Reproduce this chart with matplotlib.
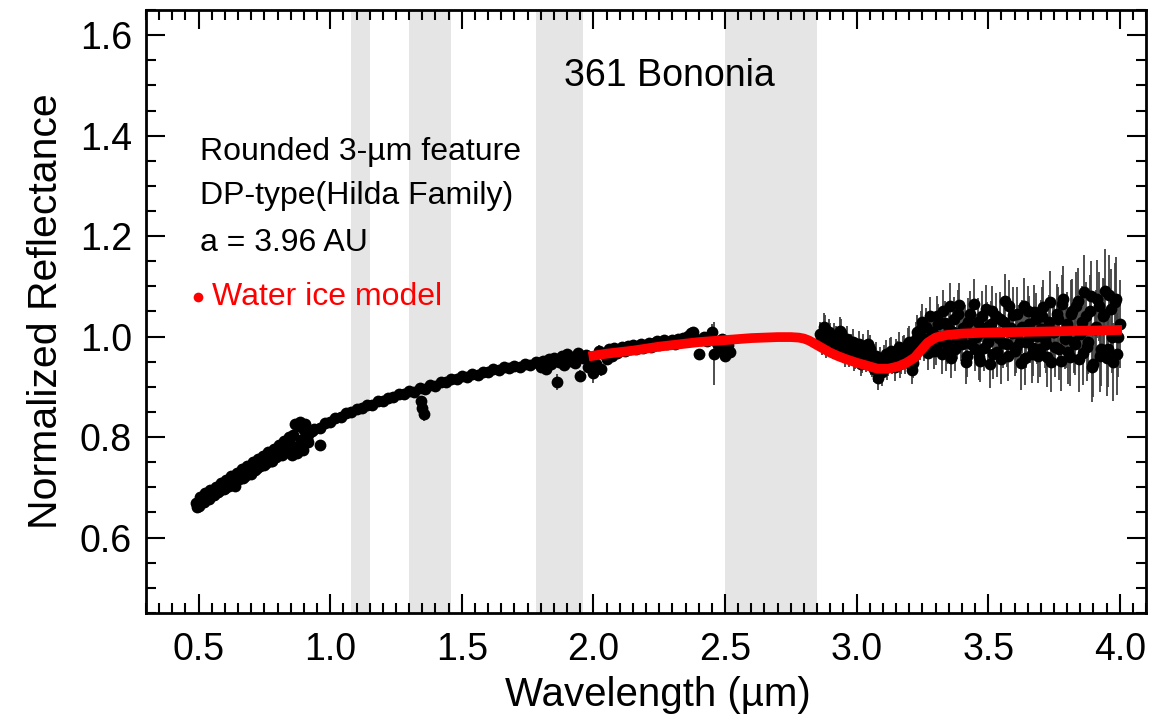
import numpy as np
import matplotlib
matplotlib.use("Agg")
import matplotlib.pyplot as plt
from matplotlib.ticker import MultipleLocator

plt.rcParams['font.family'] = ['Liberation Sans', 'DejaVu Sans']

# telluric bands masked out (um)
bands = [(1.08, 1.15), (1.30, 1.46), (1.78, 1.96), (2.50, 2.85)]

# visible spectrum
wl_vis = [0.49, 0.50, 0.51, 0.52, 0.53, 0.54, 0.55, 0.56, 0.57, 0.58, 0.59, 0.60,
          0.61, 0.62, 0.63, 0.64, 0.65, 0.66, 0.67, 0.68, 0.69, 0.70, 0.71, 0.72,
          0.73, 0.74, 0.75, 0.76, 0.77, 0.78, 0.79, 0.80, 0.81, 0.82, 0.83, 0.84,
          0.845, 0.85, 0.855, 0.86, 0.865, 0.87, 0.875, 0.88, 0.885, 0.89, 0.895,
          0.90, 0.905, 0.91, 0.915, 0.92, 0.93]
refl_vis = [0.668, 0.663, 0.676, 0.671, 0.680, 0.676, 0.687, 0.684, 0.690, 0.695, 0.700, 0.698,
            0.708, 0.706, 0.712, 0.702, 0.718, 0.724, 0.719, 0.730, 0.733, 0.727, 0.742, 0.739,
            0.746, 0.752, 0.744, 0.757, 0.762, 0.752, 0.770, 0.766, 0.777, 0.780, 0.772, 0.790,
            0.800, 0.784, 0.765, 0.805, 0.825, 0.778, 0.768, 0.822, 0.830, 0.795, 0.775,
            0.815, 0.826, 0.798, 0.790, 0.808, 0.812]
wl_vis2 = [0.495, 0.505, 0.515, 0.525, 0.535, 0.545, 0.555, 0.565, 0.575, 0.585, 0.595, 0.605,
           0.615, 0.625, 0.635, 0.645, 0.655, 0.665, 0.675, 0.685, 0.695, 0.705, 0.715, 0.725,
           0.735, 0.745, 0.755, 0.765, 0.775, 0.785, 0.795, 0.805, 0.815, 0.825, 0.835]
refl_vis2 = [0.660, 0.680, 0.670, 0.688, 0.678, 0.694, 0.684, 0.700, 0.690, 0.708, 0.696, 0.714,
             0.703, 0.722, 0.710, 0.728, 0.716, 0.736, 0.722, 0.742, 0.728, 0.750, 0.734, 0.756,
             0.742, 0.762, 0.748, 0.770, 0.753, 0.776, 0.760, 0.784, 0.765, 0.792, 0.770]

# near-infrared
wl_nir = [0.94, 0.96, 0.98, 1.00, 1.02, 1.04, 1.06, 1.08, 1.10, 1.12, 1.14, 1.16,
          1.18, 1.20, 1.22, 1.24, 1.26, 1.28, 1.30, 1.32, 1.34, 1.345, 1.35, 1.355,
          1.36, 1.38, 1.40, 1.42, 1.44, 1.46, 1.48, 1.50, 1.52, 1.54, 1.56, 1.58,
          1.60, 1.62, 1.64, 1.66, 1.68, 1.70, 1.72, 1.74, 1.76, 1.78,
          1.79, 1.80, 1.81, 1.82, 1.83, 1.84, 1.85, 1.86, 1.87, 1.88, 1.89, 1.90,
          1.91, 1.92, 1.93, 1.94, 1.95, 1.96, 1.97, 1.98, 1.99, 2.00, 0.96]
refl_nir = [0.816, 0.819, 0.828, 0.829, 0.838, 0.839, 0.847, 0.849, 0.856, 0.857, 0.864, 0.863,
            0.871, 0.872, 0.878, 0.879, 0.886, 0.885, 0.892, 0.890, 0.897, 0.872, 0.858, 0.846,
            0.896, 0.903, 0.902, 0.909, 0.909, 0.915, 0.915, 0.921, 0.920, 0.926, 0.924, 0.930,
            0.929, 0.935, 0.933, 0.939, 0.937, 0.942, 0.940, 0.946, 0.943, 0.949,
            0.947, 0.940, 0.952, 0.936, 0.955, 0.945, 0.958, 0.910, 0.950, 0.962, 0.944, 0.966,
            0.952, 0.960, 0.948, 0.968, 0.921, 0.958, 0.963, 0.940, 0.955, 0.928, 0.784]
err_nir = [0.003, 0.003, 0.003, 0.003, 0.003, 0.003, 0.003, 0.003, 0.003, 0.003, 0.003, 0.003,
           0.003, 0.003, 0.003, 0.003, 0.003, 0.003, 0.003, 0.003, 0.003, 0.010, 0.012, 0.014,
           0.003, 0.003, 0.003, 0.003, 0.003, 0.003, 0.003, 0.003, 0.003, 0.003, 0.003, 0.003,
           0.003, 0.003, 0.003, 0.003, 0.003, 0.003, 0.003, 0.003, 0.003, 0.004,
           0.006, 0.008, 0.007, 0.010, 0.008, 0.007, 0.009, 0.016, 0.008, 0.009, 0.010, 0.008,
           0.007, 0.009, 0.008, 0.010, 0.012, 0.009, 0.008, 0.011, 0.010, 0.020, 0.010]

# 2.0-2.5 um
wl_k = [2.01, 2.02, 2.03, 2.04, 2.05, 2.06, 2.07, 2.08, 2.09, 2.10, 2.11, 2.12,
        2.13, 2.14, 2.15, 2.16, 2.17, 2.18, 2.19, 2.20, 2.21, 2.22, 2.23, 2.24,
        2.25, 2.26, 2.27, 2.28, 2.29, 2.30, 2.31, 2.32, 2.33, 2.34, 2.35, 2.36,
        2.37, 2.38, 2.39, 2.40, 2.41, 2.42, 2.43, 2.44, 2.45, 2.46, 2.47, 2.48,
        2.49, 2.50, 2.51, 2.52]
refl_k = [0.945, 0.972, 0.935, 0.966, 0.955, 0.975, 0.962, 0.978, 0.968, 0.974, 0.979, 0.971,
          0.981, 0.976, 0.983, 0.975, 0.982, 0.986, 0.978, 0.984, 0.988, 0.980, 0.987, 0.991,
          0.983, 0.989, 0.993, 0.985, 0.990, 0.994, 0.986, 0.996, 0.990, 0.998, 0.992, 1.001,
          1.008, 1.010, 0.996, 0.965, 0.994, 0.999, 0.992, 1.000, 1.010, 0.966, 0.988, 0.978,
          0.995, 0.962, 0.984, 0.970]
err_k = [0.015, 0.012, 0.014, 0.010, 0.010, 0.008, 0.008, 0.006, 0.006, 0.006, 0.006, 0.006,
         0.005, 0.005, 0.005, 0.005, 0.005, 0.005, 0.005, 0.005, 0.005, 0.005, 0.005, 0.005,
         0.005, 0.005, 0.005, 0.005, 0.005, 0.005, 0.005, 0.006, 0.006, 0.006, 0.006, 0.006,
         0.006, 0.007, 0.007, 0.008, 0.007, 0.007, 0.008, 0.008, 0.015, 0.063, 0.010, 0.012,
         0.010, 0.012, 0.012, 0.012]

# L-band (2.86-4.0 um), two interleaved grids
wl_l = [2.86, 2.87, 2.88, 2.89, 2.90, 2.91, 2.92, 2.93, 2.94, 2.95, 2.96, 2.97, 2.98, 2.99,
        3.00, 3.01, 3.02, 3.03, 3.04, 3.05, 3.06, 3.07, 3.08, 3.09, 3.10, 3.11, 3.12, 3.13,
        3.14, 3.15, 3.16, 3.17, 3.18, 3.19, 3.20, 3.21, 3.22, 3.23, 3.24, 3.25, 3.26, 3.27,
        3.28, 3.29, 3.30, 3.31, 3.32, 3.33, 3.34, 3.35, 3.36, 3.37, 3.38, 3.39, 3.40, 3.41,
        3.42, 3.43, 3.44, 3.45, 3.46, 3.47, 3.48, 3.49, 3.50, 3.51, 3.52, 3.53, 3.54, 3.55,
        3.56, 3.57, 3.58, 3.59, 3.60, 3.61, 3.62, 3.63, 3.64, 3.65, 3.66, 3.67, 3.68, 3.69,
        3.70, 3.71, 3.72, 3.73, 3.74, 3.75, 3.76, 3.77, 3.78, 3.79, 3.80, 3.81, 3.82, 3.83,
        3.84, 3.85, 3.86, 3.87, 3.88, 3.89, 3.90, 3.91, 3.92, 3.93, 3.94, 3.95, 3.96, 3.97,
        3.98, 3.99, 4.00]
refl_l = [1.005, 0.985, 1.015, 0.992, 1.002, 0.978, 0.996, 0.985, 1.008, 0.970, 0.988, 0.962, 0.979, 0.955,
          0.972, 0.985, 0.950, 0.968, 0.958, 0.975, 0.945, 0.960, 0.918, 0.952, 0.940, 0.965, 0.948, 0.972,
          0.955, 0.968, 0.980, 0.952, 0.975, 0.962, 0.990, 0.934, 0.975, 1.010, 0.985, 1.030, 0.995, 0.968,
          1.040, 1.005, 0.980, 1.025, 0.992, 1.050, 0.970, 1.015, 0.958, 1.035, 0.995, 1.062, 0.985, 1.020,
          0.962, 1.045, 1.005, 0.975, 1.030, 0.952, 1.010, 1.055, 0.990, 1.025, 0.965, 1.040, 0.998, 0.955,
          1.030, 0.985, 1.060, 1.008, 0.972, 1.045, 0.990, 1.020, 0.958, 1.050, 1.000, 0.978, 1.035, 0.962,
          1.015, 1.058, 0.985, 1.030, 0.950, 1.010, 1.045, 0.975, 1.065, 0.995, 1.025, 0.960, 1.050, 0.985,
          1.070, 1.005, 0.968, 1.040, 0.990, 1.080, 0.945, 1.020, 1.060, 0.975, 1.045, 0.958, 1.082, 1.000,
          1.068, 0.965, 1.025]
err_l = [0.025, 0.022, 0.028, 0.024, 0.026, 0.022, 0.025, 0.024, 0.027, 0.023, 0.025, 0.022, 0.026, 0.024,
         0.025, 0.027, 0.023, 0.026, 0.024, 0.028, 0.025, 0.026, 0.024, 0.027, 0.025, 0.028, 0.026, 0.027,
         0.025, 0.028, 0.030, 0.026, 0.029, 0.027, 0.031, 0.029, 0.030, 0.033, 0.031, 0.035, 0.032, 0.034,
         0.038, 0.035, 0.036, 0.040, 0.037, 0.042, 0.038, 0.040, 0.041, 0.044, 0.039, 0.045, 0.040, 0.043,
         0.042, 0.046, 0.041, 0.044, 0.047, 0.043, 0.045, 0.048, 0.044, 0.046, 0.050, 0.047, 0.045, 0.049,
         0.051, 0.046, 0.052, 0.048, 0.050, 0.054, 0.049, 0.052, 0.055, 0.051, 0.053, 0.056, 0.052, 0.054,
         0.057, 0.055, 0.058, 0.053, 0.060, 0.056, 0.059, 0.062, 0.057, 0.060, 0.063, 0.058, 0.064, 0.061,
         0.066, 0.062, 0.065, 0.068, 0.064, 0.070, 0.066, 0.072, 0.069, 0.074, 0.070, 0.076, 0.080, 0.073,
         0.078, 0.082, 0.087]
wl_l2 = [2.865, 2.875, 2.885, 2.895, 2.905, 2.915, 2.925, 2.935, 2.945, 2.955, 2.965, 2.975, 2.985, 2.995,
         3.005, 3.015, 3.025, 3.035, 3.045, 3.055, 3.065, 3.075, 3.085, 3.095, 3.105, 3.115, 3.125, 3.135,
         3.145, 3.155, 3.165, 3.175, 3.185, 3.195, 3.205, 3.215, 3.225, 3.235, 3.245, 3.255, 3.265, 3.275,
         3.285, 3.295, 3.305, 3.315, 3.325, 3.335, 3.345, 3.355, 3.365, 3.375, 3.385, 3.395, 3.405, 3.415,
         3.425, 3.435, 3.445, 3.455, 3.465, 3.475, 3.485, 3.495, 3.505, 3.515, 3.525, 3.535, 3.545, 3.555,
         3.565, 3.575, 3.585, 3.595, 3.605, 3.615, 3.625, 3.635, 3.645, 3.655, 3.665, 3.675, 3.685, 3.695,
         3.705, 3.715, 3.725, 3.735, 3.745, 3.755, 3.765, 3.775, 3.785, 3.795, 3.805, 3.815, 3.825, 3.835,
         3.845, 3.855, 3.865, 3.875, 3.885, 3.895, 3.905, 3.915, 3.925, 3.935, 3.945, 3.955, 3.965, 3.975,
         3.985, 3.995]
refl_l2 = [0.995, 1.020, 0.980, 1.010, 0.990, 1.000, 0.975, 1.012, 0.982, 0.965, 0.995, 0.975, 0.990, 0.960,
           0.965, 0.945, 0.978, 0.955, 0.985, 0.948, 0.935, 0.962, 0.945, 0.930, 0.958, 0.940, 0.968, 0.952,
           0.940, 0.962, 0.945, 0.970, 0.955, 0.985, 0.968, 0.948, 0.995, 0.975, 1.015, 0.985, 1.020, 0.990,
           1.010, 0.972, 1.040, 1.000, 0.965, 1.028, 0.985, 1.060, 1.010, 0.975, 1.045, 0.995, 1.018, 0.950,
           1.030, 0.985, 1.065, 1.000, 0.960, 1.040, 0.978, 1.020, 0.945, 1.050, 1.005, 0.970, 1.035, 0.988,
           1.070, 0.962, 1.018, 1.042, 0.980, 1.008, 0.948, 1.060, 0.990, 1.025, 0.965, 1.048, 1.002, 0.975,
           1.040, 0.995, 0.960, 1.068, 1.010, 0.980, 1.035, 0.952, 1.075, 1.000, 0.970, 1.045, 0.990, 1.060,
           0.955, 1.030, 1.088, 0.980, 1.050, 0.940, 1.015, 1.075, 0.962, 1.040, 1.090, 0.975, 1.055, 0.950,
           1.075, 1.000]
err_l2 = [0.024, 0.027, 0.023, 0.026, 0.025, 0.028, 0.022, 0.026, 0.024, 0.025, 0.027, 0.023, 0.026, 0.025,
          0.026, 0.024, 0.027, 0.025, 0.028, 0.024, 0.026, 0.027, 0.025, 0.028, 0.026, 0.027, 0.029, 0.026,
          0.028, 0.030, 0.027, 0.031, 0.029, 0.032, 0.030, 0.031, 0.034, 0.032, 0.036, 0.033, 0.037, 0.035,
          0.038, 0.036, 0.041, 0.039, 0.040, 0.043, 0.040, 0.046, 0.042, 0.044, 0.047, 0.043, 0.045, 0.044,
          0.046, 0.044, 0.049, 0.045, 0.047, 0.050, 0.046, 0.049, 0.048, 0.051, 0.049, 0.050, 0.053, 0.050,
          0.054, 0.051, 0.053, 0.056, 0.052, 0.055, 0.054, 0.057, 0.053, 0.056, 0.058, 0.055, 0.057, 0.056,
          0.059, 0.057, 0.060, 0.063, 0.058, 0.061, 0.064, 0.060, 0.066, 0.062, 0.065, 0.067, 0.063, 0.069,
          0.066, 0.070, 0.075, 0.068, 0.072, 0.071, 0.074, 0.078, 0.072, 0.077, 0.085, 0.075, 0.080, 0.078,
          0.083, 0.080]

# water ice model
wl_model = [2.00, 2.05, 2.10, 2.15, 2.20, 2.25, 2.30, 2.35, 2.40, 2.45, 2.50, 2.55, 2.60, 2.65,
            2.70, 2.75, 2.78, 2.80, 2.82, 2.84, 2.86, 2.88, 2.90, 2.93, 2.96, 3.00, 3.04, 3.08,
            3.12, 3.16, 3.19, 3.22, 3.25, 3.27, 3.30, 3.34, 3.40, 3.50, 3.60, 3.70, 3.80, 3.90, 3.99]
refl_model = [0.962, 0.966, 0.969, 0.972, 0.976, 0.980, 0.983, 0.986, 0.989, 0.991, 0.993, 0.995, 0.997, 0.998,
              0.999, 0.999, 0.998, 0.996, 0.992, 0.986, 0.980, 0.974, 0.968, 0.961, 0.955, 0.948, 0.942, 0.936,
              0.936, 0.941, 0.948, 0.958, 0.976, 0.988, 0.998, 1.003, 1.006, 1.008, 1.009, 1.010, 1.011, 1.012, 1.013]

fig = plt.figure(figsize=(11.63, 7.21), dpi=100)
ax = fig.add_axes([0.1255, 0.150, 0.86, 0.836])

for lo, hi in bands:
    ax.axvspan(lo, hi, color='#e5e5e5', lw=0, zorder=0)

ms = 8.5
ebar = dict(fmt='o', color='black', ms=ms, mew=0, ecolor='0.25', elinewidth=1.3,
            capsize=9, capthick=1.5, zorder=3)
ax.plot(wl_vis, refl_vis, 'o', color='black', ms=ms, mew=0, zorder=3)
ax.plot(wl_vis2, refl_vis2, 'o', color='black', ms=ms, mew=0, zorder=3)
ax.errorbar(wl_nir, refl_nir, yerr=err_nir, **ebar)
ax.errorbar(wl_k, refl_k, yerr=err_k, **ebar)
ax.errorbar(wl_l, refl_l, yerr=err_l, **ebar)
ax.errorbar(wl_l2, refl_l2, yerr=err_l2, **ebar)
ax.plot(wl_model, refl_model, color='red', lw=7, zorder=4)

ax.set_xlim(0.3, 4.1)
ax.set_ylim(0.45, 1.65)
ax.xaxis.set_major_locator(MultipleLocator(0.5))
ax.xaxis.set_minor_locator(MultipleLocator(0.05))
ax.yaxis.set_major_locator(MultipleLocator(0.2))
ax.yaxis.set_minor_locator(MultipleLocator(0.05))
ax.xaxis.set_major_formatter(plt.FormatStrFormatter('%.1f'))
ax.yaxis.set_major_formatter(plt.FormatStrFormatter('%.1f'))
ax.tick_params(which='both', direction='in', top=True, right=True, width=1.5, labelsize=27)
ax.tick_params(which='major', length=14)
ax.tick_params(which='minor', length=7)
ax.tick_params(axis='x', pad=14)
ax.tick_params(axis='y', pad=10)
for s in ax.spines.values():
    s.set_linewidth(2)

ax.set_xlabel('Wavelength (\u00b5m)', fontsize=29)
ax.xaxis.set_label_coords(0.512, -0.105)
ax.set_ylabel('Normalized Reflectance', fontsize=29.5, labelpad=11)

ax.text(2.29, 1.499, '361 Bononia', fontsize=27, ha='center', va='baseline')
ax.text(0.504, 1.352, 'Rounded 3-\u00b5m feature', fontsize=23, va='baseline')
ax.text(0.504, 1.264, 'DP-type(Hilda Family)', fontsize=23, va='baseline')
ax.text(0.504, 1.171, 'a = 3.96 AU', fontsize=23, va='baseline')
ax.plot([0.496], [1.079], 'o', color='red', ms=7, mew=0)
ax.text(0.552, 1.063, 'Water ice model', fontsize=23, color='red', va='baseline')

fig.savefig('out.png', dpi=100)
